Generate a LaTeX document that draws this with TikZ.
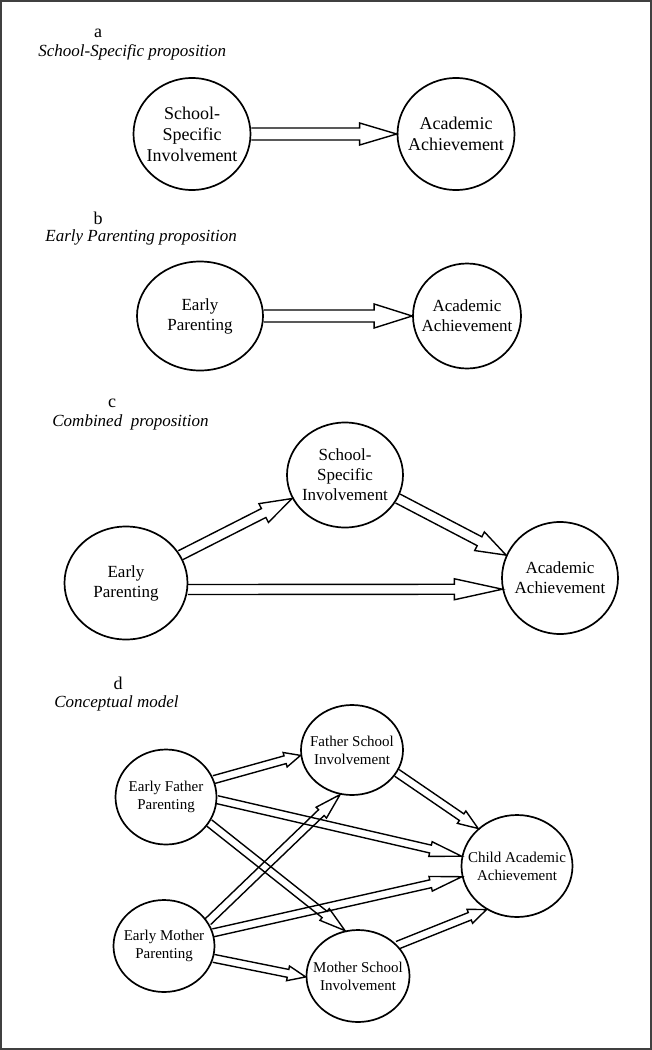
\documentclass[tikz,border=0pt]{standalone}
\usepackage{fontspec}
\setmainfont{Liberation Serif}
\usetikzlibrary{calc,shapes.geometric}

\tikzset{
  bubble/.style={draw, ellipse, line width=0.85pt, inner sep=0pt},
  inside/.style={align=center, inner sep=0pt},
  arrowline/.style={line width=0.7pt, line join=miter},
  letter/.style={inner sep=0pt, font=\fontsize{9}{10}\selectfont},
  heading/.style={anchor=west, inner sep=0pt, font=\fontsize{8.5}{10}\selectfont\itshape},
  frame/.style={line width=1pt, black!75}
}

% hollow block arrow: [head length]{from}{to}
\def\shaftw{3pt}
\def\headw{6pt}
\newcommand{\fatarrow}[3][18pt]{%
  \coordinate (hb) at ($(#3)!#1!(#2)$);
  \draw[arrowline] ($(#2)!\shaftw!90:(#3)$) -- ($(hb)!\shaftw!90:(#3)$)
    -- ($(hb)!\headw!90:(#3)$) -- (#3) -- ($(hb)!\headw!-90:(#3)$)
    -- ($(hb)!\shaftw!-90:(#3)$) -- ($(#2)!\shaftw!-90:(#3)$);}

\begin{document}
\begin{tikzpicture}[x=0.5pt, y=-0.5pt]
    \useasboundingbox (0,0) rectangle (652,1050);
    \draw[frame] (1,1) rectangle (651,1049);

    % a
    \node[letter] (la) at (98,33) {a};
    \node[heading] (ta) at (38,52) {School-Specific proposition};
    \node[bubble, minimum width=58.5pt, minimum height=56pt] (sa) at (192,134) {};
    \node[bubble, minimum width=58.5pt, minimum height=56pt] (aa) at (456,134) {};
    \begin{scope}[every node/.append style={font=\fontsize{9}{10.5}\selectfont}]
        \node[inside] (sa-t) at (sa) {School-\\Specific\\Involvement};
        \node[inside] (aa-t) at (aa) {Academic\\Achievement};
    \end{scope}
    \def\shaftw{3pt}\def\headw{5.5pt}
    \fatarrow[18.5pt]{sa.east}{aa.west}

    % b
    \node[letter] (lb) at (98,218) {b};
    \node[heading] (tb) at (45,237) {Early Parenting proposition};
    \node[bubble, minimum width=63pt, minimum height=54.5pt] (ep) at (200,316) {};
    \node[bubble, minimum width=54pt, minimum height=52.5pt] (ab) at (467,316) {};
    \begin{scope}[every node/.append style={font=\fontsize{8.5}{10}\selectfont}]
        \node[inside] (ep-t) at (ep) {Early\\Parenting};
        \node[inside] (ab-t) at (ab) {Academic\\Achievement};
    \end{scope}
    \def\shaftw{3pt}\def\headw{6pt}
    \fatarrow[19pt]{ep.east}{ab.west}

    % c
    \node[letter] (lc) at (112,403) {c};
    \node[heading] (tc) at (52,422) {Combined~~proposition};
    \node[bubble, minimum width=61.5pt, minimum height=56.5pt] (ec) at (126,583) {};
    \node[bubble, minimum width=58pt, minimum height=52.5pt] (sc) at (345,475) {};
    \node[bubble, minimum width=58pt, minimum height=56pt] (ac) at (560,578) {};
    \begin{scope}[every node/.append style={font=\fontsize{8.5}{10}\selectfont}]
        \node[inside] (ec-t) at (ec) {Early\\Parenting};
        \node[inside] (sc-t) at (sc) {School-\\Specific\\Involvement};
        \node[inside] (ac-t) at (ac) {Academic\\Achievement};
    \end{scope}
    \def\shaftw{2.5pt}\def\headw{5.25pt}
    \fatarrow[16pt]{ec.27}{sc.204}
    \fatarrow[15pt]{sc.336}{ac.157}
    \fatarrow[24pt]{ec.354}{ac.191}

    % d
    \node[letter] (ld) at (118,683) {d};
    \node[heading] (td) at (54,703) {Conceptual model};
    \node[bubble, minimum width=50.5pt, minimum height=47.5pt] (ef) at (166,797) {};
    \node[bubble, minimum width=51pt, minimum height=45pt] (fs) at (352,750) {};
    \node[bubble, minimum width=55.5pt, minimum height=51pt] (ca) at (517,866) {};
    \node[bubble, minimum width=50.5pt, minimum height=46pt] (em) at (164,946) {};
    \node[bubble, minimum width=51.5pt, minimum height=46pt] (ms) at (358,976) {};
    \begin{scope}[every node/.append style={font=\fontsize{7.5}{9}\selectfont}]
        \node[inside] (ef-t) at (ef) {Early Father\\Parenting};
        \node[inside] (fs-t) at (fs) {Father School\\Involvement};
        \node[inside] (ca-t) at (ca) {Child Academic\\Achievement};
        \node[inside] (em-t) at (em) {Early Mother\\Parenting};
        \node[inside] (ms-t) at (ms) {Mother School\\Involvement};
    \end{scope}
    \def\shaftw{2pt}\def\headw{3.75pt}
    \fatarrow[8pt]{ef.20}{fs.186}
    \fatarrow[16pt]{ef.357}{ca.170}
    \fatarrow[13pt]{ef.329}{ms.106}
    \fatarrow[13pt]{em.29}{fs.255}
    \fatarrow[16pt]{em.15}{ca.191}
    \fatarrow[9pt]{em.346}{ms.181}
    \fatarrow[10pt]{fs.333}{ca.136}
    \fatarrow[9pt]{ms.38}{ca.235}
\end{tikzpicture}
\end{document}
